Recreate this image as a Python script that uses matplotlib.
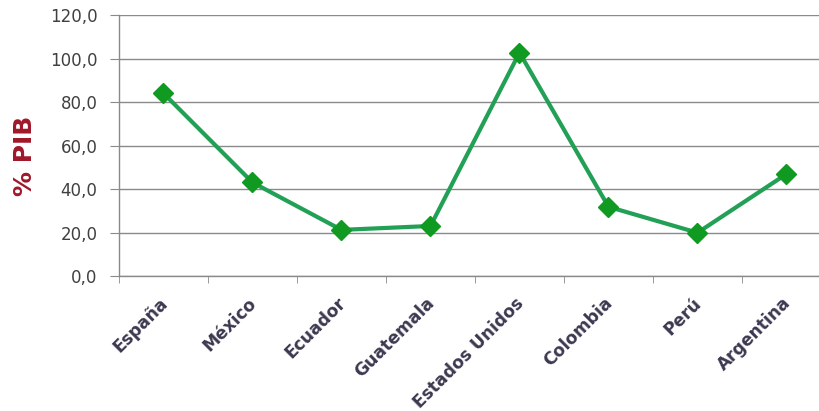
import matplotlib
matplotlib.use("Agg")
import matplotlib.pyplot as plt
import matplotlib.transforms as mtransforms
import numpy as np

paises = ["España", "México", "Ecuador", "Guatemala", "Estados Unidos", "Colombia", "Perú", "Argentina"]
valores = [84.0, 43.0, 21.2, 23.0, 102.7, 31.8, 19.9, 46.9]
yticks = [0, 20, 40, 60, 80, 100, 120]
ylabels = ["0,0", "20,0", "40,0", "60,0", "80,0", "100,0", "120,0"]

W, H = 820, 411
fig = plt.figure(figsize=(W / 100, H / 100), dpi=100)
left, right, top, bottom = 119, 820, 15, 276
ax = fig.add_axes([left / W, 1 - bottom / H, (right - left) / W, (bottom - top) / H])

x = np.arange(len(paises))
ax.plot(x, valores, color="#22a055", lw=3, marker="D", ms=10,
        markerfacecolor="#119a22", markeredgecolor="#119a22", zorder=3, clip_on=False)

ax.set_yticks(yticks)
ax.set_yticklabels(ylabels, fontsize=12, color="#404040", family="DejaVu Sans")
ax.yaxis.grid(True, color="#8a8a8a", lw=1)
ax.set_axisbelow(True)

ax.set_xticks(x)
ax.set_xticklabels(paises, rotation=45, ha="right", rotation_mode="anchor",
                   fontsize=12.3, fontweight="bold", color="#3c3850",
                   family="DejaVu Sans")
ax.set_xticks(np.arange(-0.5, len(paises), 1), minor=True)
ax.tick_params(axis="x", which="major", length=0, pad=8)
ax.tick_params(axis="x", which="minor", length=5, color="#8a8a8a", direction="out")
ax.tick_params(axis="y", length=6.5, color="#8a8a8a", direction="out", pad=9)

shift = mtransforms.ScaledTranslation(-5 / 100, -7 / 100, fig.dpi_scale_trans)
for lab in ax.get_xticklabels():
    lab.set_transform(lab.get_transform() + shift)

ax.set_ylim(0, 120)
ax.set_xlim(-0.5, -0.5 + (right - left) / 89.0)

for s in ["top", "right"]:
    ax.spines[s].set_visible(False)
for s in ["left", "bottom"]:
    ax.spines[s].set_color("#8a8a8a")
    ax.spines[s].set_linewidth(1)

fig.text(25 / W, 1 - 156 / H, "% PIB", rotation=90, ha="center", va="center",
         fontsize=18, fontweight="bold", color="#a0182a", family="DejaVu Sans")

fig.savefig("out.png", dpi=100)
